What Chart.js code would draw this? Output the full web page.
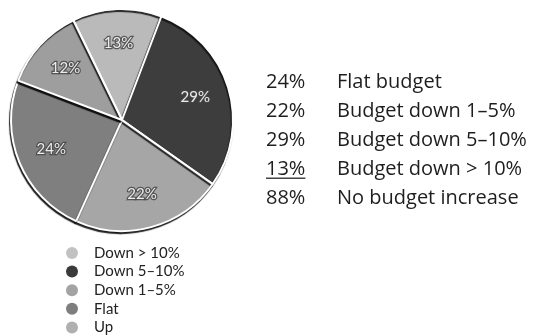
<!DOCTYPE html>
<html>
<head>
<meta charset="utf-8">
<script src="https://cdn.jsdelivr.net/npm/chart.js@4.4.1/dist/chart.umd.min.js"></script>
<style>
  html, body { margin: 0; padding: 0; background: #fff; }
  #wrap { position: relative; width: 535px; height: 335px; }
</style>
</head>
<body>
<div id="wrap"><canvas id="budgetChart" width="535" height="335"></canvas></div>
<script>
/* --------- データ --------- */
// 予算の変化（円グラフ、時計回り）
const sliceLabels = ["Down > 10%", "Down 5–10%", "Down 1–5%", "Flat", "Up"];
const sliceValues = [13, 29, 22, 24, 12];
const sliceColors = ["#bababa", "#3d3d3d", "#a6a6a6", "#7f7f7f", "#9e9e9e"];
const legendColors = ["#c2c2c2", "#3a3a3a", "#a3a3a3", "#7e7e7e", "#b0b0b0"];

// 右側のまとめ表
const summaryPercents = ["24%", "22%", "29%", "13%", "88%"];
const summaryLabels = ["Flat budget", "Budget down 1–5%", "Budget down 5–10%", "Budget down > 10%", "No budget increase"];
const underlinedRow = 3;

/* --------- プラグイン --------- */
// 立体っぽく見せるための影
const sliceShadow = {
  id: "sliceShadow",
  beforeDatasetsDraw(chart) {
    const ctx = chart.ctx;
    ctx.save();
    ctx.shadowColor = "rgba(15,15,15,0.9)";
    ctx.shadowBlur = 1;
    ctx.shadowOffsetX = -1;
    ctx.shadowOffsetY = 2;
  },
  afterDatasetsDraw(chart) {
    chart.ctx.restore();
  },
};

// スライス内のパーセント表示
const sliceText = {
  id: "sliceText",
  afterDatasetsDraw(chart) {
    const ctx = chart.ctx;
    const arcs = chart.getDatasetMeta(0).data;
    ctx.save();
    ctx.shadowColor = "transparent";
    ctx.font = "15px Lato";
    ctx.textAlign = "center";
    ctx.textBaseline = "middle";
    arcs.forEach((arc, i) => {
      const mid = (arc.startAngle + arc.endAngle) / 2;
      const r = arc.outerRadius * 0.69;
      const x = arc.x + Math.cos(mid) * r;
      const y = arc.y + Math.sin(mid) * r;
      const txt = sliceValues[i] + "%";
      ctx.lineWidth = 2.5;
      ctx.strokeStyle = "rgba(70,70,70,0.85)";
      ctx.strokeText(txt, x, y);
      ctx.fillStyle = "#ececec";
      ctx.fillText(txt, x, y);
    });
    ctx.restore();
  },
};

// 凡例（縦並び）
const sideLegend = {
  id: "sideLegend",
  afterDraw(chart) {
    const ctx = chart.ctx;
    ctx.save();
    ctx.font = "15px Lato";
    ctx.textBaseline = "middle";
    sliceLabels.forEach((lab, i) => {
      const y = 253 + i * 18.6;
      ctx.beginPath();
      ctx.arc(72, y, 6, 0, Math.PI * 2);
      ctx.fillStyle = legendColors[i];
      ctx.fill();
      ctx.fillStyle = "#222";
      ctx.fillText(lab, 94, y);
    });
    ctx.restore();
  },
};

// 右側のまとめ表
const summaryTable = {
  id: "summaryTable",
  afterDraw(chart) {
    const ctx = chart.ctx;
    ctx.save();
    ctx.font = "20px 'Open Sans'";
    ctx.textBaseline = "alphabetic";
    ctx.fillStyle = "#1e1e1e";
    summaryPercents.forEach((p, i) => {
      const y = 88 + i * 29;
      ctx.fillText(p, 266, y);
      ctx.fillText(summaryLabels[i], 337, y);
      if (i === underlinedRow) {
        const w = ctx.measureText(p).width;
        ctx.fillStyle = "#444";
        ctx.fillRect(266, y + 2.5, w, 1.5);
        ctx.fillStyle = "#1e1e1e";
      }
    });
    ctx.restore();
  },
};

/* --------- グラフ描画 --------- */
new Chart(document.getElementById("budgetChart"), {
  type: "pie",
  data: {
    labels: sliceLabels,
    datasets: [
      {
        data: sliceValues,
        backgroundColor: sliceColors,
        borderColor: "#ffffff",
        borderWidth: 2,
      },
    ],
  },
  options: {
    responsive: false,
    animation: false,
    rotation: -26,
    layout: { padding: { left: 10, top: 8, right: 301, bottom: 103 } },
    plugins: {
      legend: { display: false },
      tooltip: { enabled: false },
    },
  },
  plugins: [sliceShadow, sliceText, sideLegend, summaryTable],
});
</script>
</body>
</html>
